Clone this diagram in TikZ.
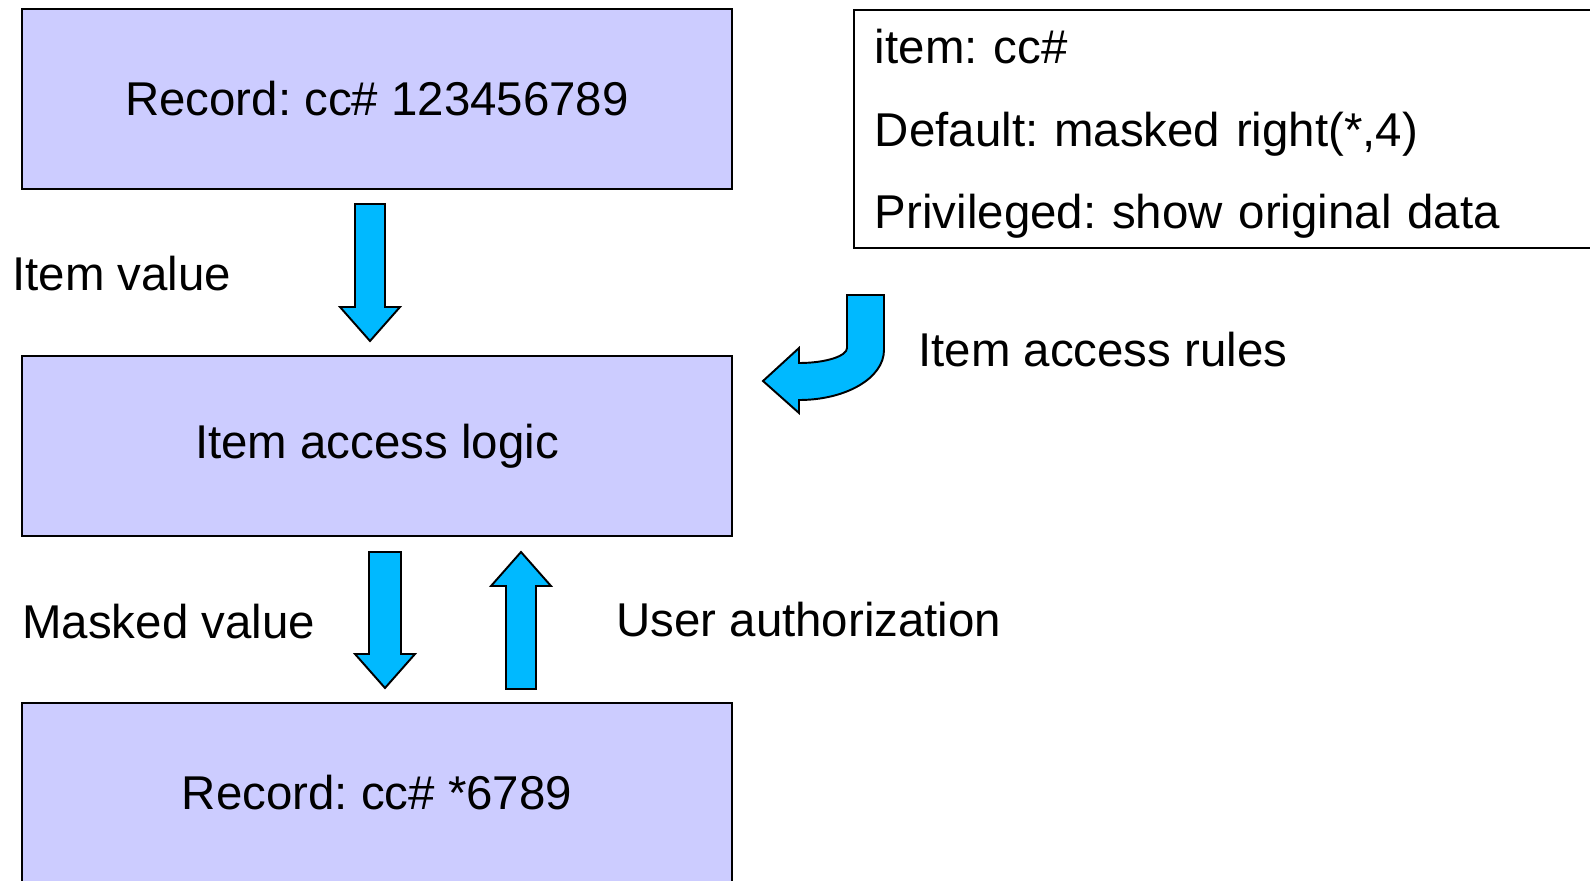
\documentclass[tikz,border=0pt]{standalone}
\usepackage{fontspec}
\setmainfont{Liberation Sans}
\usepackage{xcolor}
\usetikzlibrary{positioning}
\frenchspacing
\definecolor{cRECORD}{HTML}{CCCCFF}
\definecolor{cFLOW}{HTML}{00B9FF}
\newcommand{\diafont}{\fontsize{27}{47}\selectfont}
\tikzset{
  recbox/.style={
    draw=black, line width=1.1pt,
    fill=cRECORD,
    inner sep=0pt,
    minimum width=14.2cm,
    minimum height=3.6cm,
    font=\diafont
  },
  rulebox/.style={
    draw=black, line width=1.1pt,
    fill=white,
    align=left,
    inner xsep=0.42cm,
    text width=14.36cm,
    minimum height=4.76cm,
    font=\diafont
  },
  flowtext/.style={
    inner sep=0pt,
    anchor=west,
    font=\diafont
  },
  fatarrow/.style={
    draw=black, line width=1.1pt,
    fill=cFLOW,
    line join=miter
  }
}
% x, tail, head base, tip, half shaft width
\newcommand{\fatarrowpath}[5]{%
  \draw[fatarrow] (#1-#5,#2) -- (#1-#5,#3) -- (#1-30,#3) -- (#1,#4)
    -- (#1+30,#3) -- (#1+#5,#3) -- (#1+#5,#2) -- cycle;%
}

\begin{document}
\begin{tikzpicture}[x=0.02cm, y=-0.02cm]
  \useasboundingbox (0,0) rectangle (1590,880);
  \clip (0,0) rectangle (1590,880);

  \node[recbox] (rec) at (377,99) {Record: cc\# 123456789};
  \node[recbox, below=3.30cm of rec] (logic) {Item access logic};
  \node[recbox, below=3.30cm of logic] (masked) {Record: cc\# *6789};

  \node[rulebox, anchor=north west] (rules) at (853,9) {\rule{0pt}{0.88cm}item: cc\#\\Default: masked right(*,4)\\Privileged: show original data};

  \node[flowtext] (itemvalue) at (12,274) {Item value};
  \node[flowtext] (accessrules) at (918,350) {Item access rules};
  \node[flowtext] (maskedvalue) at (22,622) {Masked value};
  \node[flowtext] (userauth) at (616,620) {User authorization};

  \fatarrowpath{370}{204}{307}{341}{15}
  \fatarrowpath{385}{552}{654}{688}{16}
  \fatarrowpath{521}{689}{586}{552}{15}

  \draw[fatarrow] (847,295) -- (884,295) -- (884,350)
    .. controls (884,378) and (846,400) .. (799,400)
    -- (799,413) -- (763,381) -- (799,348) -- (799,363)
    .. controls (826,363) and (847,356) .. (847,348) -- cycle;
\end{tikzpicture}
\end{document}
